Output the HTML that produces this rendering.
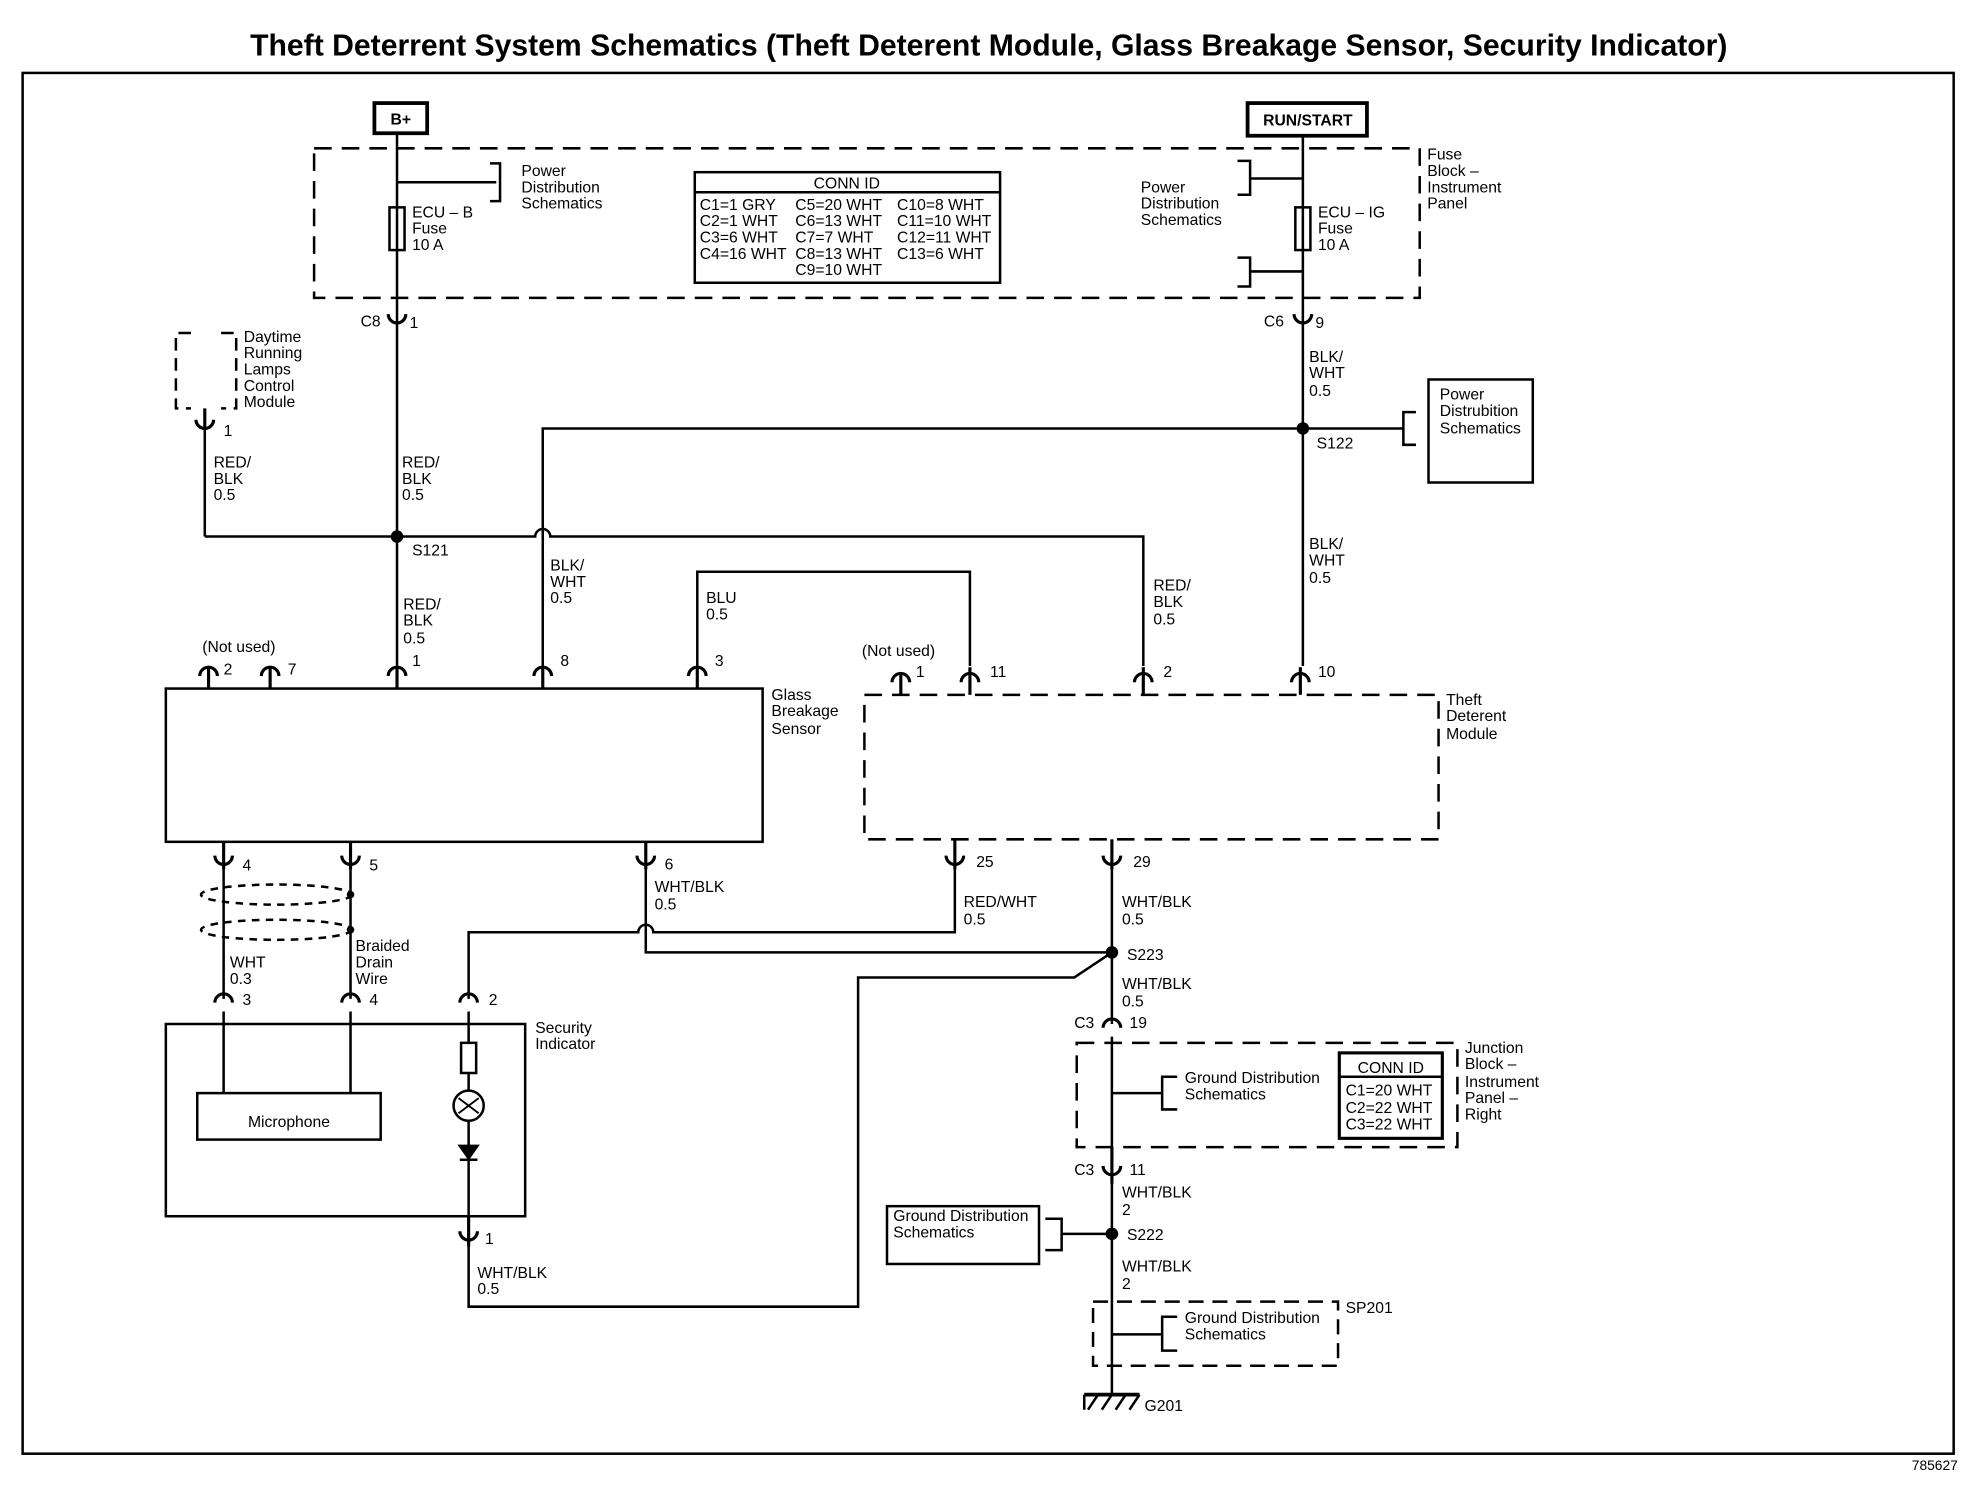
<!DOCTYPE html>
<html><head><meta charset="utf-8"><style>
html,body{margin:0;padding:0;background:#fff}
svg{display:block}
text{font-family:"Liberation Sans",Arial,sans-serif;fill:#000}
</style></head><body>
<svg width="1970" height="1504" viewBox="0 0 1568 1197" xmlns="http://www.w3.org/2000/svg">
<g fill="none" stroke="#000" stroke-width="2">
<rect x="18" y="58" width="1537" height="1099"/>
<rect x="298" y="82" width="42" height="24" stroke-width="3"/>
<rect x="993" y="82" width="95" height="26" stroke-width="3"/>
<rect x="250" y="118" width="880" height="119" stroke-dasharray="14,8"/>
<rect x="553" y="137" width="243" height="88"/>
<line x1="553" y1="153" x2="796" y2="153"/>
<line x1="316" y1="106" x2="316" y2="530"/>
<rect x="310" y="165" width="12" height="34"/>
<line x1="316" y1="145" x2="395" y2="145"/>
<path d="M390,130 H398 V160 H390"/>
<line x1="1037" y1="108" x2="1037" y2="530"/>
<rect x="1031" y="165" width="12" height="34"/>
<line x1="1037" y1="142" x2="995" y2="142"/>
<path d="M985,128 H995 V155 H985"/>
<line x1="1037" y1="216" x2="995" y2="216"/>
<path d="M985,205 H995 V228 H985"/>
<path d="M152,265 H140 V325 H152 M176,265 H188 V325 H176" stroke-dasharray="10,6"/>
<line x1="163" y1="340" x2="163" y2="427"/>
<path d="M163,427 H426 A6,6 0 0 1 438,427 H910 V530"/>
<path d="M432,530 V341 H1117"/>
<path d="M1127,328 H1117 V354 H1127"/>
<rect x="1137" y="302" width="83" height="82"/>
<path d="M555,530 V455 H772 V530"/>
<rect x="132" y="548" width="475" height="122"/>
<rect x="688" y="553" width="457" height="115" stroke-dasharray="14,8"/>
<line x1="178" y1="692" x2="178" y2="795"/>
<line x1="279" y1="692" x2="279" y2="795"/>
<ellipse cx="220" cy="712" rx="60" ry="8" stroke-dasharray="6,5"/>
<ellipse cx="220" cy="740" rx="60" ry="8" stroke-dasharray="6,5"/>
<path d="M373,795 V742 H508 A6,6 0 0 1 520,742 H760 V692"/>
<path d="M514,692 V758 H885"/>
<path d="M885,692 V815"/>
<path d="M885,758 L855,778 H683 V1040 H373 V990"/>
<rect x="132" y="815" width="286" height="153"/>
<rect x="157" y="870" width="146" height="37"/>
<line x1="178" y1="805" x2="178" y2="870"/>
<line x1="279" y1="805" x2="279" y2="870"/>
<line x1="373" y1="805" x2="373" y2="975"/>
<rect x="367" y="830" width="12" height="24" fill="#fff"/>
<circle cx="373" cy="880" r="12" fill="#fff"/>
<path d="M365,874 L381,886 M381,874 L365,886" stroke-width="1.5"/>
<path d="M366,912 H380 L373,922 Z" fill="#000"/>
<line x1="366" y1="923" x2="380" y2="923"/>
<rect x="857" y="830" width="303" height="83" stroke-dasharray="14,8"/>
<line x1="885" y1="825" x2="885" y2="920"/>
<line x1="885" y1="870" x2="925" y2="870"/>
<path d="M937,857 H925 V883 H937"/>
<rect x="1066" y="838" width="82" height="68" stroke-width="2.5"/>
<line x1="1066" y1="857" x2="1148" y2="857"/>
<line x1="885" y1="940" x2="885" y2="1110"/>
<line x1="885" y1="982" x2="845" y2="982"/>
<path d="M832,970 H845 V995 H832"/>
<rect x="706" y="960" width="121" height="46"/>
<rect x="870" y="1036" width="195" height="51" stroke-dasharray="12,7"/>
<line x1="885" y1="1062" x2="925" y2="1062"/>
<path d="M937,1048 H925 V1075 H937"/>
<line x1="863" y1="1110" x2="907" y2="1110" stroke-width="3"/>
<path d="M863,1110 V1122 M874,1110 L866,1122 M885,1110 L877,1122 M896,1110 L888,1122 M907,1110 L899,1122"/>
</g>
<g fill="#000">
<circle cx="316" cy="427" r="5"/><circle cx="1037" cy="341" r="5"/>
<circle cx="885" cy="758" r="5"/><circle cx="885" cy="982" r="5"/>
<circle cx="279" cy="712" r="3"/><circle cx="279" cy="740" r="3"/>
</g>
<g fill="none" stroke="#000" stroke-width="2.5">
<path d="M159,538 A7,7 0 0 1 173,538"/><line x1="166" y1="531" x2="166" y2="548"/>
<path d="M208,538 A7,7 0 0 1 222,538"/><line x1="215" y1="531" x2="215" y2="548"/>
<path d="M309,538 A7,7 0 0 1 323,538"/><line x1="316" y1="531" x2="316" y2="548"/>
<path d="M425,538 A7,7 0 0 1 439,538"/><line x1="432" y1="531" x2="432" y2="548"/>
<path d="M548,538 A7,7 0 0 1 562,538"/><line x1="555" y1="531" x2="555" y2="548"/>
<path d="M710,543 A7,7 0 0 1 724,543"/><line x1="717" y1="536" x2="717" y2="553"/>
<path d="M765,543 A7,7 0 0 1 779,543"/><line x1="772" y1="531" x2="772" y2="553"/>
<path d="M903,543 A7,7 0 0 1 917,543"/><line x1="910" y1="531" x2="910" y2="553"/>
<path d="M1028,543 A7,7 0 0 1 1042,543"/><line x1="1035" y1="531" x2="1035" y2="553"/>
<path d="M171,798 A7,7 0 0 1 185,798"/>
<path d="M272,798 A7,7 0 0 1 286,798"/>
<path d="M366,798 A7,7 0 0 1 380,798"/>
<path d="M878,818 A7,7 0 0 1 892,818"/>
<path d="M309,250 A7,7 0 0 0 323,250"/>
<path d="M1030,250 A7,7 0 0 0 1044,250"/>
<path d="M156,334 A7,7 0 0 0 170,334"/><line x1="163" y1="325" x2="163" y2="341"/>
<path d="M171,681 A7,7 0 0 0 185,681"/><line x1="178" y1="670" x2="178" y2="692"/>
<path d="M272,681 A7,7 0 0 0 286,681"/><line x1="279" y1="670" x2="279" y2="692"/>
<path d="M507,681 A7,7 0 0 0 521,681"/><line x1="514" y1="670" x2="514" y2="692"/>
<path d="M753,681 A7,7 0 0 0 767,681"/><line x1="760" y1="668" x2="760" y2="692"/>
<path d="M878,681 A7,7 0 0 0 892,681"/><line x1="885" y1="668" x2="885" y2="692"/>
<path d="M366,980 A7,7 0 0 0 380,980"/><line x1="373" y1="968" x2="373" y2="992"/>
<path d="M878,928 A7,7 0 0 0 892,928"/><line x1="885" y1="913" x2="885" y2="942"/>
</g>
<g font-size="12.5">
<text x="787" y="44" font-size="24" font-weight="bold" text-anchor="middle">Theft Deterrent System Schematics (Theft Deterent Module, Glass Breakage Sensor, Security Indicator)</text>
<text x="319" y="99" font-weight="bold" text-anchor="middle">B+</text>
<text x="1041" y="100" font-weight="bold" text-anchor="middle">RUN/START</text>
<text x="1540" y="1170" font-size="11" text-anchor="middle">785627</text>
<text x="415" y="140">Power</text><text x="415" y="153">Distribution</text><text x="415" y="166">Schematics</text>
<text x="328" y="173">ECU – B</text><text x="328" y="186">Fuse</text><text x="328" y="199">10 A</text>
<text x="674" y="150" text-anchor="middle">CONN ID</text>
<text x="557" y="167">C1=1 GRY</text><text x="633" y="167">C5=20 WHT</text><text x="714" y="167">C10=8 WHT</text>
<text x="557" y="180">C2=1 WHT</text><text x="633" y="180">C6=13 WHT</text><text x="714" y="180">C11=10 WHT</text>
<text x="557" y="193">C3=6 WHT</text><text x="633" y="193">C7=7 WHT</text><text x="714" y="193">C12=11 WHT</text>
<text x="557" y="206">C4=16 WHT</text><text x="633" y="206">C8=13 WHT</text><text x="714" y="206">C13=6 WHT</text>
<text x="633" y="219">C9=10 WHT</text>
<text x="908" y="153">Power</text><text x="908" y="166">Distribution</text><text x="908" y="179">Schematics</text>
<text x="1049" y="173">ECU – IG</text><text x="1049" y="186">Fuse</text><text x="1049" y="199">10 A</text>
<text x="1136" y="127">Fuse</text><text x="1136" y="140">Block –</text><text x="1136" y="153">Instrument</text><text x="1136" y="166">Panel</text>
<text x="287" y="260">C8</text><text x="326" y="261">1</text>
<text x="1006" y="260">C6</text><text x="1047" y="261">9</text>
<text x="194" y="272">Daytime</text><text x="194" y="285">Running</text><text x="194" y="298">Lamps</text><text x="194" y="311">Control</text><text x="194" y="324">Module</text>
<text x="178" y="347">1</text>
<text x="170" y="372">RED/</text><text x="170" y="385">BLK</text><text x="170" y="398">0.5</text>
<text x="320" y="372">RED/</text><text x="320" y="385">BLK</text><text x="320" y="398">0.5</text>
<text x="1042" y="288">BLK/</text><text x="1042" y="301">WHT</text><text x="1042" y="315">0.5</text>
<text x="1048" y="357">S122</text>
<text x="1146" y="318">Power</text><text x="1146" y="331">Distrubition</text><text x="1146" y="345">Schematics</text>
<text x="328" y="442">S121</text>
<text x="1042" y="437">BLK/</text><text x="1042" y="450">WHT</text><text x="1042" y="464">0.5</text>
<text x="438" y="454">BLK/</text><text x="438" y="467">WHT</text><text x="438" y="480">0.5</text>
<text x="562" y="480">BLU</text><text x="562" y="493">0.5</text>
<text x="918" y="470">RED/</text><text x="918" y="483">BLK</text><text x="918" y="497">0.5</text>
<text x="321" y="485">RED/</text><text x="321" y="498">BLK</text><text x="321" y="512">0.5</text>
<text x="161" y="519">(Not used)</text><text x="178" y="537">2</text><text x="229" y="537">7</text>
<text x="328" y="530">1</text><text x="446" y="530">8</text><text x="569" y="530">3</text>
<text x="686" y="522">(Not used)</text><text x="729" y="539">1</text><text x="788" y="539">11</text>
<text x="926" y="539">2</text><text x="1049" y="539">10</text>
<text x="614" y="557">Glass</text><text x="614" y="570">Breakage</text><text x="614" y="584">Sensor</text>
<text x="1151" y="561">Theft</text><text x="1151" y="574">Deterent</text><text x="1151" y="588">Module</text>
<text x="193" y="693">4</text><text x="294" y="693">5</text><text x="529" y="692">6</text>
<text x="777" y="690">25</text><text x="902" y="690">29</text>
<text x="521" y="710">WHT/BLK</text><text x="521" y="724">0.5</text>
<text x="767" y="722">RED/WHT</text><text x="767" y="736">0.5</text>
<text x="893" y="722">WHT/BLK</text><text x="893" y="736">0.5</text>
<text x="897" y="764">S223</text>
<text x="893" y="787">WHT/BLK</text><text x="893" y="801">0.5</text>
<text x="283" y="757">Braided</text><text x="283" y="770">Drain</text><text x="283" y="783">Wire</text>
<text x="183" y="770">WHT</text><text x="183" y="783">0.3</text>
<text x="193" y="800">3</text><text x="294" y="800">4</text><text x="389" y="800">2</text>
<text x="426" y="822">Security</text><text x="426" y="835">Indicator</text>
<text x="230" y="897" text-anchor="middle">Microphone</text>
<text x="855" y="818">C3</text><text x="899" y="818">19</text>
<text x="1166" y="838">Junction</text><text x="1166" y="851">Block –</text><text x="1166" y="865">Instrument</text><text x="1166" y="878">Panel –</text><text x="1166" y="891">Right</text>
<text x="943" y="862">Ground Distribution</text><text x="943" y="875">Schematics</text>
<text x="1107" y="854" text-anchor="middle">CONN ID</text>
<text x="1071" y="872">C1=20 WHT</text><text x="1071" y="886">C2=22 WHT</text><text x="1071" y="899">C3=22 WHT</text>
<text x="855" y="935">C3</text><text x="899" y="935">11</text>
<text x="893" y="953">WHT/BLK</text><text x="893" y="967">2</text>
<text x="897" y="987">S222</text>
<text x="893" y="1012">WHT/BLK</text><text x="893" y="1026">2</text>
<text x="711" y="972">Ground Distribution</text><text x="711" y="985">Schematics</text>
<text x="386" y="990">1</text>
<text x="380" y="1017">WHT/BLK</text><text x="380" y="1030">0.5</text>
<text x="1071" y="1045">SP201</text>
<text x="943" y="1053">Ground Distribution</text><text x="943" y="1066">Schematics</text>
<text x="911" y="1123">G201</text>
</g>
</svg>
</body></html>
